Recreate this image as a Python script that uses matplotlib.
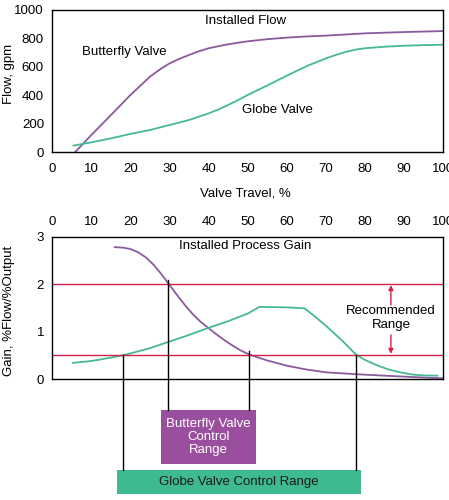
import matplotlib
matplotlib.use("Agg")
import matplotlib.pyplot as plt
from matplotlib.patches import Rectangle
from matplotlib.lines import Line2D
import matplotlib.transforms as mtransforms

plt.rcParams['font.family'] = ['Liberation Sans', 'DejaVu Sans']
plt.rcParams['font.size'] = 9.5

# ---- Data ----
travel_ticks = [0, 10, 20, 30, 40, 50, 60, 70, 80, 90, 100]
flow_ticks = [0, 200, 400, 600, 800, 1000]
gain_ticks = [0, 1, 2, 3]

bfly_flow_x = [5.8, 10, 15, 20, 25, 27.5, 30, 32.5, 35, 37.5, 40, 42.5, 45, 47.5, 50, 55, 60, 65, 70, 80, 90, 100]
bfly_flow_y = [0, 122, 262, 403, 532, 582, 625, 657, 684, 710, 731, 746, 759, 770, 780, 795, 806, 814, 820, 836, 845, 852]

globe_flow_x = [5.4, 10, 15, 20, 25, 30, 35, 40, 42.5, 45, 47.5, 50, 55, 60, 65, 70, 72.5, 75, 78, 80, 85, 90, 95, 100]
globe_flow_y = [47, 70, 98, 129, 157, 192, 227, 274, 301, 333, 367, 403, 470, 539, 605, 660, 684, 705, 724, 731, 742, 749, 753, 756]

bfly_gain_x = [16, 18, 20, 22, 24, 26, 28, 30, 32, 34, 36, 38, 40, 42, 44, 46, 48, 50, 52, 55, 60, 65, 70, 78, 85, 90, 95, 100]
bfly_gain_y = [2.78, 2.77, 2.74, 2.67, 2.56, 2.40, 2.20, 1.98, 1.76, 1.55, 1.36, 1.20, 1.07, 0.94, 0.82, 0.71, 0.61, 0.53, 0.47, 0.39, 0.28, 0.2, 0.14, 0.1, 0.07, 0.05, 0.03, 0.015]

globe_gain_x = [5.3, 10, 15, 18, 20, 25, 30, 35, 40, 45, 50, 53, 60, 64.5, 67, 70, 74, 77.6, 80, 83, 86, 89, 92, 95, 98.5]
globe_gain_y = [0.34, 0.38, 0.45, 0.5, 0.54, 0.65, 0.79, 0.93, 1.08, 1.22, 1.38, 1.52, 1.51, 1.49, 1.33, 1.12, 0.82, 0.52, 0.4, 0.29, 0.2, 0.14, 0.095, 0.075, 0.07]

recommended_low = 0.5
recommended_high = 2.0
bfly_range = [29.7, 50.4]
bfly_range_gain = [2.09, 0.59]
globe_range = [18.2, 77.6]
globe_range_gain = [0.5, 0.5]

# ---- Style ----
c_bfly = '#8a5a9b'
c_globe = '#45b894'
c_red = '#d2204c'
c_bfly_box = '#9a4f9e'
c_globe_box = '#3dba8e'

W, H = 449, 500
fig = plt.figure(figsize=(W / 100, H / 100), dpi=100)

def px_axes(left, top, right, bottom):
    return [left / W, 1 - bottom / H, (right - left) / W, (bottom - top) / H]

# ---- Top: Installed Flow ----
ax1 = fig.add_axes(px_axes(52.3, 10, 443.3, 152.3))
ax1.plot(bfly_flow_x, bfly_flow_y, color=c_bfly, lw=1.3)
ax1.plot(globe_flow_x, globe_flow_y, color=c_globe, lw=1.3)
ax1.set_xlim(0, 100)
ax1.set_ylim(0, 1000)
ax1.set_xticks(travel_ticks)
ax1.set_yticks(flow_ticks)
ax1.tick_params(length=0, pad=6)
ax1.tick_params(axis='x', pad=8)
for s in ax1.spines.values():
    s.set_linewidth(1.0)
ax1.text(49.3, 925, 'Installed Flow', ha='center', va='center')
ax1.text(18.4, 705, 'Butterfly Valve', ha='center', va='center')
ax1.text(57.5, 300, 'Globe Valve', ha='center', va='center')

fig.text(245 / W, 1 - 193 / H, 'Valve Travel, %', ha='center', va='center')
fig.text(9.5 / W, 1 - 74 / H, 'Flow, gpm', ha='center', va='center', rotation=90)

# ---- Bottom: Installed Process Gain ----
ax2 = fig.add_axes(px_axes(52.3, 236.7, 443.3, 379))
ax2.plot(bfly_gain_x, bfly_gain_y, color=c_bfly, lw=1.3)
ax2.plot(globe_gain_x, globe_gain_y, color=c_globe, lw=1.3)
ax2.axhline(recommended_high, color=c_red, lw=1.0)
ax2.axhline(recommended_low, color=c_red, lw=1.0)
ax2.set_xlim(0, 100)
ax2.set_ylim(0, 3)
ax2.set_xticks(travel_ticks)
ax2.set_yticks(gain_ticks)
ax2.xaxis.tick_top()
ax2.tick_params(length=0, pad=6)
for s in ax2.spines.values():
    s.set_linewidth(1.0)
ax2.text(49.4, 2.8, 'Installed Process Gain', ha='center', va='center')
ax2.text(86.6, 1.28, 'Recommended\nRange', ha='center', va='center', linespacing=1.2)
ax2.annotate('', xy=(86.6, 1.98), xytext=(86.6, 1.56),
             arrowprops=dict(arrowstyle='-|>', color=c_red, lw=1.0, mutation_scale=7, shrinkA=0, shrinkB=0))
ax2.annotate('', xy=(86.6, 0.53), xytext=(86.6, 0.93),
             arrowprops=dict(arrowstyle='-|>', color=c_red, lw=1.0, mutation_scale=7, shrinkA=0, shrinkB=0))

fig.text(9 / W, 1 - 310.7 / H, 'Gain, %Flow/%Output', ha='center', va='center', rotation=90)

# ---- Control range connectors and boxes ----
pos = ax2.get_position()
trans = mtransforms.blended_transform_factory(ax2.transData, fig.transFigure)

def gain_to_fig(g):
    return pos.y0 + g / 3 * pos.height

bfly_box_top = 1 - 410 / H
bfly_box_bot = 1 - 464.3 / H
globe_box_top = 1 - 470 / H
globe_box_bot = 1 - 494.3 / H

for x, g in zip(bfly_range, bfly_range_gain):
    fig.add_artist(Line2D([x, x], [gain_to_fig(g), bfly_box_top], transform=trans, color='black', lw=1.0))
for x, g in zip(globe_range, globe_range_gain):
    fig.add_artist(Line2D([x, x], [gain_to_fig(g), globe_box_top], transform=trans, color='black', lw=1.0))

fig.add_artist(Rectangle((27.8, bfly_box_bot), 52.0 - 27.8, bfly_box_top - bfly_box_bot,
                         transform=trans, facecolor=c_bfly_box, edgecolor='none'))
fig.text((161 + 255.7) / 2 / W, (bfly_box_top + bfly_box_bot) / 2, 'Butterfly Valve\nControl\nRange',
         ha='center', va='center', color='white', linespacing=1.15)

fig.add_artist(Rectangle((16.6, globe_box_bot), 78.9 - 16.6, globe_box_top - globe_box_bot,
                         transform=trans, facecolor=c_globe_box, edgecolor='none'))
fig.text((117.3 + 360.7) / 2 / W, (globe_box_top + globe_box_bot) / 2, 'Globe Valve Control Range',
         ha='center', va='center', color='#1a1a1a')

fig.savefig('out.png', dpi=100)
